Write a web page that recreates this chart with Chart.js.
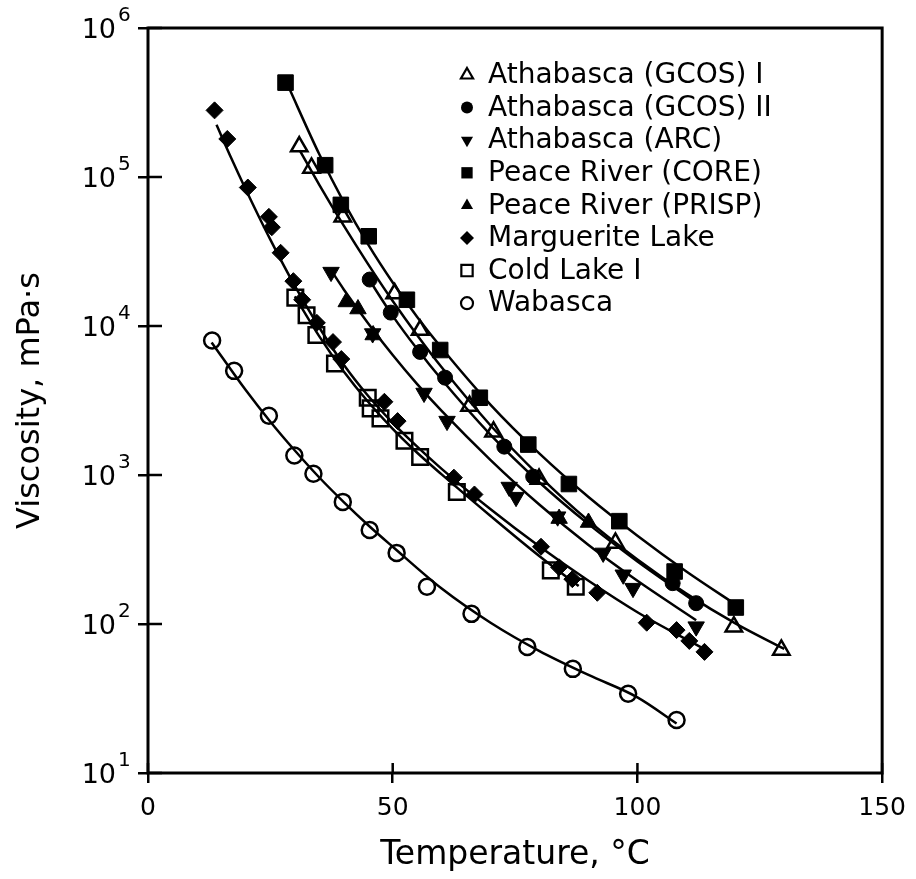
<!DOCTYPE html>
<html>
<head>
<meta charset="utf-8">
<script src="https://cdn.jsdelivr.net/npm/chart.js@4.4.1/dist/chart.umd.min.js"></script>
<style>
html,body{margin:0;padding:0;background:#fff;}
#wrap{width:916px;height:879px;}
</style>
</head>
<body>
<div id="wrap"><canvas id="visc"></canvas></div>
<script>
const xTicks=[0,50,100,150];
const yTicks=[10,100,1000,10000,100000,1000000];
const yTickBase="10";
const yTickExp=["1","2","3","4","5","6"];

const names=["Athabasca (GCOS) I","Athabasca (GCOS) II","Athabasca (ARC)","Peace River (CORE)","Peace River (PRISP)","Marguerite Lake","Cold Lake I","Wabasca"];

// measured points: [temperature °C, viscosity mPa·s]
const gcos1=[[30.9,160000],[33.4,115000],[39.8,54000],[50.4,16500],[55.6,9400],[65.7,2900],[70.6,1950],[79.9,940],[95.5,350],[119.7,96],[129.4,67]];
const gcos2=[[45.3,20500],[49.6,12300],[55.6,6700],[60.7,4500],[72.8,1550],[78.7,975],[107.2,188],[112,138]];
const arc=[[37.4,23000],[45.9,8900],[56.4,3550],[61.1,2300],[73.8,830],[75.2,710],[83.7,525],[93,300],[97.1,214],[99.1,174],[112,96]];
const core=[[28.1,430000],[36.2,120000],[39.4,65000],[45.1,40000],[52.9,15000],[59.7,6900],[67.8,3300],[77.7,1600],[86,870],[96.3,490],[107.6,225],[120.1,129]];
const prisp=[[40.5,14500],[42.9,13000],[46,8700],[84,510],[90,480]];
const marg=[[13.6,280000],[16.2,180000],[20.4,85000],[24.7,54000],[25.3,46000],[27.1,31000],[29.7,20000],[31.5,15000],[34.5,10500],[37.8,7800],[39.5,6000],[48.3,3100],[51,2300],[62.5,960],[66.7,740],[80.3,330],[84,240],[86.7,200],[91.8,162],[101.9,102],[108,91],[110.6,77],[113.7,65]];
const cold=[[30.1,15500],[32.4,11800],[34.4,8700],[38.2,5600],[44.9,3300],[45.5,2800],[47.5,2400],[52.4,1700],[55.6,1320],[63.1,770],[82.3,229],[87.4,178]];
const wab=[[13.1,8000],[17.6,5000],[24.7,2500],[29.9,1350],[33.8,1020],[39.8,660],[45.3,427],[50.8,300],[57,178],[66.1,117],[77.5,70],[86.8,50],[98.1,34],[108,22.7]];

// fitted curves
const gcos1Fit=[[31,151000],[35,88700],[40,47100],[45,25900],[50,14700],[55,8670],[60,5280],[70,2150],[80,984],[90,493],[100,271],[110,160],[120,101],[130,68]];
const gcos2Fit=[[45,20900],[50,11700],[55,7000],[60,4370],[70,1860],[80,891],[90,468],[100,263],[113,132]];
const arcFit=[[37.5,23400],[40,17600],[45,10400],[50,6380],[55,4070],[60,2690],[70,1260],[80,631],[90,339],[100,195],[112,106]];
const coreFit=[[28.5,417000],[35,142000],[40,67900],[45,35200],[50,19600],[55,11500],[60,7110],[70,2960],[80,1390],[90,711],[100,391],[110,225],[121,129]];
const margFit=[[14,224000],[17,134000],[20,82200],[25,38000],[30,18600],[35,9770],[40,5500],[45,3390],[50,2240],[55,1550],[60,1100],[70,589],[80,331],[90,195],[100,120],[114,67]];
const coldFit=[[30,15800],[35,8510],[40,4950],[45,3090],[50,2040],[55,1410],[60,1010],[70,531],[80,285],[88,180]];
const wabFit=[[13,7760],[20,3700],[25,2280],[30,1460],[35,962],[40,658],[45,460],[50,330],[60,173],[70,102],[80,65.8],[90,45.5],[100,32.2],[108,21.5]];

const points=[gcos1,gcos2,arc,core,prisp,marg,cold,wab];
const curves=[gcos1Fit,gcos2Fit,arcFit,coreFit,null,margFit,coldFit,wabFit];

const marks=[
  {shape:'triangle',rot:0,fill:false,r:9.5},
  {shape:'circle',rot:0,fill:true,r:7.5},
  {shape:'triangle',rot:180,fill:true,r:9.5},
  {shape:'rect',rot:0,fill:true,r:11},
  {shape:'triangle',rot:0,fill:true,r:9.5},
  {shape:'rectRot',rot:0,fill:true,r:8.5},
  {shape:'rect',rot:0,fill:false,r:11},
  {shape:'circle',rot:0,fill:false,r:8}
];

function toXY(arr){return arr.map(p=>({x:p[0],y:p[1]}));}

const datasets=[];
curves.forEach((c,i)=>{
  if(!c) return;
  datasets.push({
    label:names[i]+' fit',
    data:toXY(c),
    showLine:true,
    pointRadius:0,
    borderColor:'#000',
    borderWidth:2.5,
    cubicInterpolationMode:'monotone',
    fill:false
  });
});
points.forEach((p,i)=>{
  const m=marks[i];
  datasets.push({
    label:names[i],
    data:toXY(p),
    showLine:false,
    pointStyle:m.shape,
    rotation:m.rot,
    pointRadius:m.r,
    backgroundColor:m.fill?'#000':'rgba(0,0,0,0)',
    borderColor:'#000',
    borderWidth:m.fill?1:2.5
  });
});

function drawMark(ctx,m,x,y,r){
  ctx.beginPath();
  if(m.shape==='circle'){
    ctx.arc(x,y,r,0,Math.PI*2);
  }else if(m.shape==='rect'){
    const s=r*Math.SQRT1_2;
    ctx.rect(x-s,y-s,2*s,2*s);
  }else if(m.shape==='rectRot'){
    ctx.moveTo(x,y-r);ctx.lineTo(x+r,y);ctx.lineTo(x,y+r);ctx.lineTo(x-r,y);ctx.closePath();
  }else{
    let a=m.rot*Math.PI/180;
    for(let k=0;k<3;k++){
      const px=x+Math.sin(a)*r, py=y-Math.cos(a)*r;
      if(k===0) ctx.moveTo(px,py); else ctx.lineTo(px,py);
      a+=2*Math.PI/3;
    }
    ctx.closePath();
  }
  if(m.fill){ctx.fillStyle='#000';ctx.fill();}
  else{ctx.lineWidth=2.2;ctx.strokeStyle='#000';ctx.stroke();}
}

const framePlugin={
  id:'frame',
  afterDraw(chart){
    const {ctx,chartArea:a,scales}=chart;
    ctx.save();
    ctx.strokeStyle='#000';
    ctx.lineWidth=3;
    ctx.strokeRect(a.left,a.top,a.right-a.left,a.bottom-a.top);
    ctx.lineWidth=2.5;
    ctx.beginPath();
    xTicks.forEach(v=>{const px=scales.x.getPixelForValue(v);ctx.moveTo(px,a.bottom);ctx.lineTo(px,a.bottom-10);});
    yTicks.forEach(v=>{const py=scales.y.getPixelForValue(v);ctx.moveTo(a.left,py);ctx.lineTo(a.left+14,py);});
    ctx.stroke();
    // y tick labels: 10 with raised exponent
    ctx.fillStyle='#000';
    ctx.textBaseline='middle';
    yTicks.forEach((v,i)=>{
      const py=scales.y.getPixelForValue(v);
      ctx.font='27px "DejaVu Sans"';
      ctx.textAlign='right';
      ctx.fillText(yTickBase,116,py+3);
      ctx.font='20px "DejaVu Sans"';
      ctx.textAlign='left';
      ctx.fillText(yTickExp[i],118,py-12);
    });
    // legend in the upper right of the plot
    ctx.font='28px "DejaVu Sans"';
    ctx.textAlign='left';
    names.forEach((n,i)=>{
      const y=75+i*32.6;
      const m=marks[i];
      drawMark(ctx,m,467,y,m.shape==='rect'?8:(m.shape==='circle'?6:7));
      ctx.fillStyle='#000';
      ctx.fillText(n,488,y+1);
    });
    ctx.restore();
  }
};

Chart.defaults.font.family='"DejaVu Sans", sans-serif';
Chart.defaults.color='#000';

new Chart(document.getElementById('visc'),{
  type:'scatter',
  data:{datasets:datasets},
  options:{
    responsive:true,
    maintainAspectRatio:false,
    animation:false,
    layout:{padding:{top:28,right:27,left:0,bottom:0}},
    plugins:{legend:{display:false},tooltip:{enabled:false}},
    scales:{
      x:{
        type:'linear',min:0,max:150,
        afterBuildTicks:s=>{s.ticks=xTicks.map(v=>({value:v}));},
        afterFit:s=>{s.height=106;},
        ticks:{font:{size:25},padding:10,callback:v=>String(v),autoSkip:false,maxRotation:0},
        grid:{drawOnChartArea:false,drawTicks:true,tickLength:10,color:'#000',lineWidth:2.5},
        border:{display:false},
        title:{display:true,text:'Temperature, °C',font:{size:33},padding:{top:0,bottom:4}}
      },
      y:{
        type:'logarithmic',min:10,max:1000000,
        afterBuildTicks:s=>{s.ticks=yTicks.map(v=>({value:v,major:true}));},
        afterFit:s=>{s.width=148;},
        ticks:{display:false},
        grid:{drawOnChartArea:false,drawTicks:true,tickLength:10,color:'#000',lineWidth:2.5},
        border:{display:false},
        title:{display:true,text:'Viscosity, mPa·s',font:{size:32},padding:{top:11,bottom:0}}
      }
    }
  },
  plugins:[framePlugin]
});
</script>
</body>
</html>
